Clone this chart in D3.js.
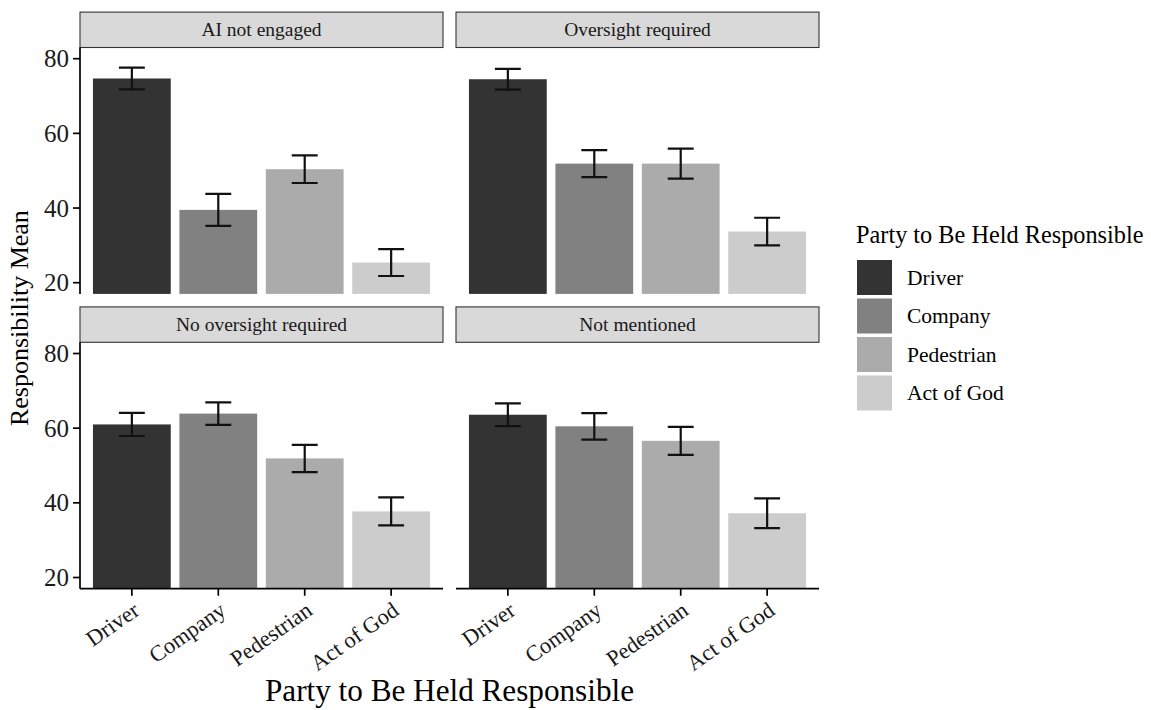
<!DOCTYPE html>
<html>
<head>
<meta charset="utf-8">
<script src="https://cdn.jsdelivr.net/npm/d3@7"></script>
<style>
  body { margin: 0; background: #fff; }
  svg { display: block; font-family: 'Liberation Serif', 'Times New Roman', serif; }
  .strip rect { fill: #d9d9d9; stroke: #333; stroke-width: 1.1; }
  .axis-line { stroke: #000; stroke-width: 1.7; }
  .tick-line { stroke: #000; stroke-width: 1.7; }
  .errbar { stroke: #111; stroke-width: 2.2; fill: none; }
</style>
</head>
<body>
<div id="chart"></div>
<script>
// data
const parties = ['Driver', 'Company', 'Pedestrian', 'Act of God'];
const conditions = ['AI not engaged', 'Oversight required', 'No oversight required', 'Not mentioned'];
const meanAiNotEngaged = [74.7, 39.5, 50.4, 25.4];
const errAiNotEngaged = [2.9, 4.3, 3.7, 3.6];
const meanOversight = [74.5, 51.9, 51.9, 33.7];
const errOversight = [2.8, 3.6, 4.0, 3.7];
const meanNoOversight = [61.0, 63.9, 51.9, 37.7];
const errNoOversight = [3.1, 3.0, 3.65, 3.75];
const meanNotMentioned = [63.6, 60.5, 56.6, 37.2];
const errNotMentioned = [3.05, 3.55, 3.75, 4.0];
const yTicks = [20, 40, 60, 80];
const fills = ['#333333', '#818181', '#ababab', '#cccccc'];

const means = [meanAiNotEngaged, meanOversight, meanNoOversight, meanNotMentioned];
const errs = [errAiNotEngaged, errOversight, errNoOversight, errNotMentioned];

const facets = conditions.map((c, i) => ({
  name: c,
  col: i % 2,
  row: Math.floor(i / 2),
  values: parties.map((p, j) => ({ party: p, mean: means[i][j], se: errs[i][j] })),
}));

// dimension stuff
const width = 1151;
const height = 710;
const panelW = 363;
const panelH = 246.4;
const stripH = 35.4;
const colX = [80, 456];
const rowY = [47.5, 342.3];

const scaleX = d3.scaleBand().domain(parties).range([0, panelW]).paddingInner(0.1).paddingOuter(0.15);
const scaleY = d3.scaleLinear().domain([17, 83]).range([panelH, 0]);
const scaleFill = d3.scaleOrdinal().domain(parties).range(fills);
const step = scaleX.step();
const capW = step * 0.3;

const $svg = d3.select('#chart').append('svg').attr('width', width).attr('height', height);

const $panel = $svg.selectAll('g.panel')
  .data(facets)
  .join('g')
  .attr('class', 'panel')
  .attr('transform', d => `translate(${colX[d.col]},${rowY[d.row]})`);

// strips
const $strip = $panel.append('g').attr('class', 'strip').attr('transform', `translate(0,${-stripH})`);
$strip.append('rect').attr('width', panelW).attr('height', stripH);
$strip.append('text')
  .attr('x', panelW / 2)
  .attr('y', stripH / 2 + 6.4)
  .attr('text-anchor', 'middle')
  .style('font-size', '19.5px')
  .style('fill', '#1a1a1a')
  .text(d => d.name);

// bars
$panel.selectAll('rect.bar')
  .data(d => d.values)
  .join('rect')
  .attr('class', 'bar')
  .attr('x', d => scaleX(d.party))
  .attr('width', scaleX.bandwidth())
  .attr('y', d => scaleY(d.mean))
  .attr('height', d => panelH - scaleY(d.mean))
  .attr('fill', d => scaleFill(d.party));

// error bars
const $err = $panel.selectAll('g.err')
  .data(d => d.values)
  .join('g')
  .attr('class', 'err')
  .attr('transform', d => `translate(${scaleX(d.party) + scaleX.bandwidth() / 2},0)`);
$err.append('path')
  .attr('class', 'errbar')
  .attr('d', d => {
    const hi = scaleY(d.mean + d.se);
    const lo = scaleY(d.mean - d.se);
    return `M${-capW / 2},${hi}H${capW / 2}M0,${hi}V${lo}M${-capW / 2},${lo}H${capW / 2}`;
  });

// y axis on left column
const $left = $panel.filter(d => d.col === 0);
$left.append('line').attr('class', 'axis-line').attr('x1', 0).attr('x2', 0).attr('y1', 0).attr('y2', panelH);
const $yt = $left.selectAll('g.ytick').data(yTicks).join('g')
  .attr('class', 'ytick')
  .attr('transform', d => `translate(0,${scaleY(d)})`);
$yt.append('line').attr('class', 'tick-line').attr('x1', -7).attr('x2', 0);
$yt.append('text')
  .attr('x', -11)
  .attr('y', 8.5)
  .attr('text-anchor', 'end')
  .style('font-size', '25px')
  .style('fill', '#1a1a1a')
  .text(d => d);

// x axis on bottom row
const $bottom = $panel.filter(d => d.row === 1);
$bottom.append('line').attr('class', 'axis-line').attr('x1', 0).attr('x2', panelW).attr('y1', panelH).attr('y2', panelH);
const $xt = $bottom.selectAll('g.xtick').data(parties).join('g')
  .attr('class', 'xtick')
  .attr('transform', d => `translate(${scaleX(d) + scaleX.bandwidth() / 2},${panelH})`);
$xt.append('line').attr('class', 'tick-line').attr('y1', 0).attr('y2', 7);
$xt.append('text')
  .attr('transform', 'translate(0,12) rotate(-35)')
  .attr('text-anchor', 'end')
  .attr('dy', '0.7em')
  .style('font-size', '22.5px')
  .style('fill', '#1a1a1a')
  .text(d => d);

// axis titles
$svg.append('text')
  .attr('x', (colX[0] + colX[1] + panelW) / 2)
  .attr('y', 701)
  .attr('text-anchor', 'middle')
  .style('font-size', '31.2px')
  .text('Party to Be Held Responsible');

$svg.append('text')
  .attr('transform', `translate(28,${(rowY[0] + rowY[1] + panelH) / 2}) rotate(-90)`)
  .attr('text-anchor', 'middle')
  .style('font-size', '26px')
  .text('Responsibility Mean');

// legend
const $legend = $svg.append('g').attr('transform', 'translate(857,0)');
$legend.append('text')
  .attr('x', -1)
  .attr('y', 243)
  .style('font-size', '24.3px')
  .text('Party to Be Held Responsible');
const $key = $legend.selectAll('g.key').data(parties).join('g')
  .attr('class', 'key')
  .attr('transform', (d, i) => `translate(0,${260 + i * 38.5})`);
$key.append('rect').attr('width', 35).attr('height', 35).attr('fill', d => scaleFill(d));
$key.append('text')
  .attr('x', 50)
  .attr('y', 17.5 + 7)
  .style('font-size', '21.5px')
  .text(d => d);
</script>
</body>
</html>
